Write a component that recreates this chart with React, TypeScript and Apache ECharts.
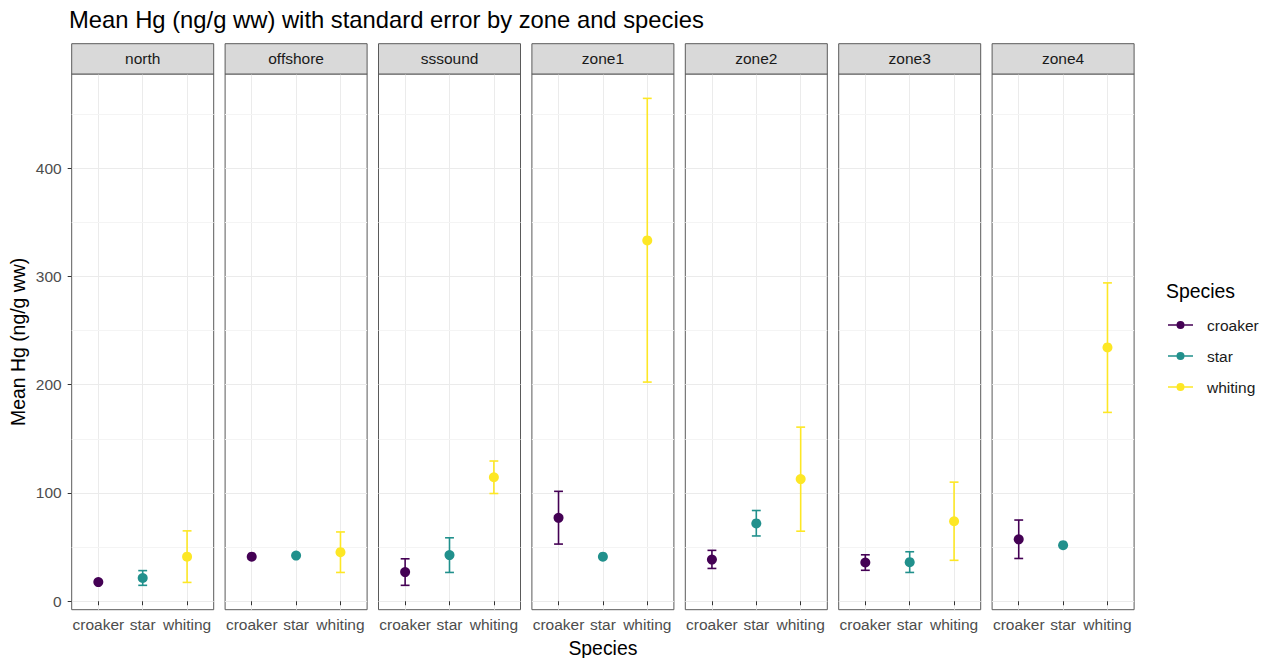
import React, { useEffect, useRef } from "react";
import * as echarts from "echarts";

const zones = ["north", "offshore", "sssound", "zone1", "zone2", "zone3", "zone4"];
const species = ["croaker", "star", "whiting"];
const speciesColors = ["#440154", "#21908C", "#FDE725"];

const croakerMean = [17.7, 41.2, 26.9, 77.0, 38.5, 35.8, 57.2];
const croakerLow = [null, null, 14.7, 52.8, 30.3, 28.6, 39.5];
const croakerHigh = [null, null, 39.2, 101.5, 47.0, 42.9, 75.0];

const starMean = [21.5, 42.2, 42.6, 41.2, 71.9, 36.1, 51.8];
const starLow = [14.7, null, 26.6, null, 60.3, 26.6, null];
const starHigh = [28.3, null, 58.6, null, 83.8, 45.7, null];

const whitingMean = [41.2, 45.3, 114.5, 333.2, 112.8, 73.9, 234.4];
const whitingLow = [17.4, 26.6, 99.5, 202.4, 64.7, 37.8, 174.4];
const whitingHigh = [65.0, 64.0, 129.5, 464.4, 160.8, 110.0, 294.0];

const yTicks = [0, 100, 200, 300, 400];
const yMinor = [50, 150, 250, 350, 450];
const xTicks = [1, 2, 3];

const means = [croakerMean, starMean, whitingMean];
const lows = [croakerLow, starLow, whitingLow];
const highs = [croakerHigh, starHigh, whitingHigh];

const FONT = "Liberation Sans, Arial, Helvetica, sans-serif";
const PANEL_LEFT = 71.7;
const PANEL_STEP = 153.4;
const PANEL_W = 142;
const PANEL_TOP = 74;
const PANEL_H = 535.7;
const STRIP_TOP = 43.7;
const STRIP_H = 30.3;
const Y_MIN = -7.8;
const Y_MAX = 486.9;
const BORDER = "#5a5a5a";
const SMALL = 15.5;
const MED = 19.4;

const legendIcon =
  "path://M0,4.25L25,4.25L25,5.75L0,5.75Z M12.5,1A4,4,0,1,1,12.5,9A4,4,0,1,1,12.5,1Z";

export default function App() {
  const ref = useRef<HTMLDivElement>(null);
  useEffect(() => {
    if (!ref.current) return;
    const chart = echarts.init(ref.current, null, { renderer: "svg" });

    const grids: any[] = [];
    const xAxes: any[] = [];
    const yAxes: any[] = [];
    const series: any[] = [];
    const graphics: any[] = [];

    zones.forEach((zone, zi) => {
      const left = PANEL_LEFT + zi * PANEL_STEP;
      grids.push({
        left,
        top: PANEL_TOP,
        width: PANEL_W,
        height: PANEL_H,
        show: true,
        borderColor: BORDER,
        borderWidth: 1,
        backgroundColor: "#fff",
        containLabel: false,
      });
      xAxes.push({
        type: "value",
        gridIndex: zi,
        min: 0.4,
        max: 3.6,
        axisLine: { show: false },
        axisTick: { show: true, customValues: xTicks, length: 4, lineStyle: { color: "#333" } },
        axisLabel: {
          show: true,
          customValues: xTicks,
          formatter: (v: number) => species[Math.round(v) - 1] ?? "",
          color: "#4d4d4d",
          fontSize: SMALL,
          fontFamily: FONT,
          margin: 7,
        },
        splitLine: { show: true, lineStyle: { color: "#ebebeb", width: 1 } },
      });
      yAxes.push({
        type: "value",
        gridIndex: zi,
        min: Y_MIN,
        max: Y_MAX,
        axisLine: { show: false },
        axisTick: { show: zi === 0, customValues: yTicks, length: 4, lineStyle: { color: "#333" } },
        axisLabel: {
          show: zi === 0,
          customValues: yTicks,
          color: "#4d4d4d",
          fontSize: SMALL,
          fontFamily: FONT,
          margin: 10,
        },
        splitLine: { show: true, lineStyle: { color: "#ebebeb", width: 1 } },
      });

      // minor gridlines
      series.push({
        type: "scatter",
        name: "_minor" + zi,
        xAxisIndex: zi,
        yAxisIndex: zi,
        data: [],
        silent: true,
        markLine: {
          silent: true,
          symbol: "none",
          z: 1,
          label: { show: false },
          lineStyle: { color: "#f4f4f4", width: 1, type: "solid" },
          data: yMinor.map((v) => ({ yAxis: v })),
        },
      });

      species.forEach((sp, si) => {
        const lo = lows[si][zi];
        const hi = highs[si][zi];
        const color = speciesColors[si];
        series.push({
          type: "custom",
          name: sp,
          xAxisIndex: zi,
          yAxisIndex: zi,
          z: 2,
          silent: true,
          itemStyle: { color },
          encode: { x: 0, y: [1, 2] },
          data: lo != null && hi != null ? [[si + 1, lo, hi]] : [],
          renderItem: (params: any, api: any) => {
            const x = api.value(0);
            const l = api.value(1);
            const h = api.value(2);
            const pLo = api.coord([x, l]);
            const pHi = api.coord([x, h]);
            const cL = api.coord([x - 0.1, h]);
            const cR = api.coord([x + 0.1, h]);
            const style = { stroke: color, lineWidth: 1.6, fill: null };
            return {
              type: "group",
              children: [
                { type: "line", shape: { x1: pLo[0], y1: pLo[1], x2: pHi[0], y2: pHi[1] }, style },
                { type: "line", shape: { x1: cL[0], y1: pHi[1], x2: cR[0], y2: pHi[1] }, style },
                { type: "line", shape: { x1: cL[0], y1: pLo[1], x2: cR[0], y2: pLo[1] }, style },
              ],
            };
          },
        });
        series.push({
          type: "scatter",
          name: sp,
          xAxisIndex: zi,
          yAxisIndex: zi,
          z: 3,
          symbol: "circle",
          symbolSize: 10,
          itemStyle: { color, opacity: 1 },
          data: [[si + 1, means[si][zi]]],
        });
      });

      graphics.push({
        type: "rect",
        shape: { x: left, y: STRIP_TOP, width: PANEL_W, height: STRIP_H },
        style: { fill: "#d9d9d9", stroke: BORDER, lineWidth: 1 },
        z: 10,
      });
      graphics.push({
        type: "text",
        x: left + PANEL_W / 2,
        y: STRIP_TOP + STRIP_H / 2,
        style: {
          text: zone,
          fill: "#1a1a1a",
          font: `${SMALL}px ${FONT}`,
          textAlign: "center",
          textVerticalAlign: "middle",
        },
        z: 11,
      });
    });

    const panelsRight = PANEL_LEFT + (zones.length - 1) * PANEL_STEP + PANEL_W;
    graphics.push({
      type: "text",
      x: (PANEL_LEFT + panelsRight) / 2,
      y: 648,
      style: {
        text: "Species",
        fill: "#000",
        font: `${MED}px ${FONT}`,
        textAlign: "center",
        textVerticalAlign: "middle",
      },
    });
    graphics.push({
      type: "text",
      x: 18,
      y: PANEL_TOP + PANEL_H / 2,
      rotation: Math.PI / 2,
      style: {
        text: "Mean Hg (ng/g ww)",
        fill: "#000",
        font: `${MED}px ${FONT}`,
        textAlign: "center",
        textVerticalAlign: "middle",
      },
    });

    chart.setOption({
      animation: false,
      backgroundColor: "#fff",
      textStyle: { fontFamily: FONT },
      title: [
        {
          text: "Mean Hg (ng/g ww) with standard error by zone and species",
          left: 69,
          top: 7,
          padding: 0,
          textStyle: { fontSize: 23.8, fontWeight: "normal", color: "#000", fontFamily: FONT },
        },
        {
          text: "Species",
          left: 1166,
          top: 281,
          padding: 0,
          textStyle: { fontSize: MED, fontWeight: "normal", color: "#000", fontFamily: FONT },
        },
      ],
      legend: {
        orient: "vertical",
        left: 1168,
        top: 317,
        padding: 0,
        itemWidth: 25,
        itemHeight: 10,
        itemGap: 15,
        selectedMode: false,
        data: species.map((s, i) => ({
          name: s,
          icon: legendIcon,
          itemStyle: { color: speciesColors[i] },
        })),
        textStyle: { fontSize: SMALL, color: "#1a1a1a", fontFamily: FONT, padding: [0, 0, 0, 9] },
      },
      grid: grids,
      xAxis: xAxes,
      yAxis: yAxes,
      series,
      graphic: graphics,
    });

    return () => chart.dispose();
  }, []);

  return (
    <div
      ref={ref}
      style={{ position: "fixed", left: 0, top: 0, width: 1269, height: 658, background: "#fff" }}
    />
  );
}
